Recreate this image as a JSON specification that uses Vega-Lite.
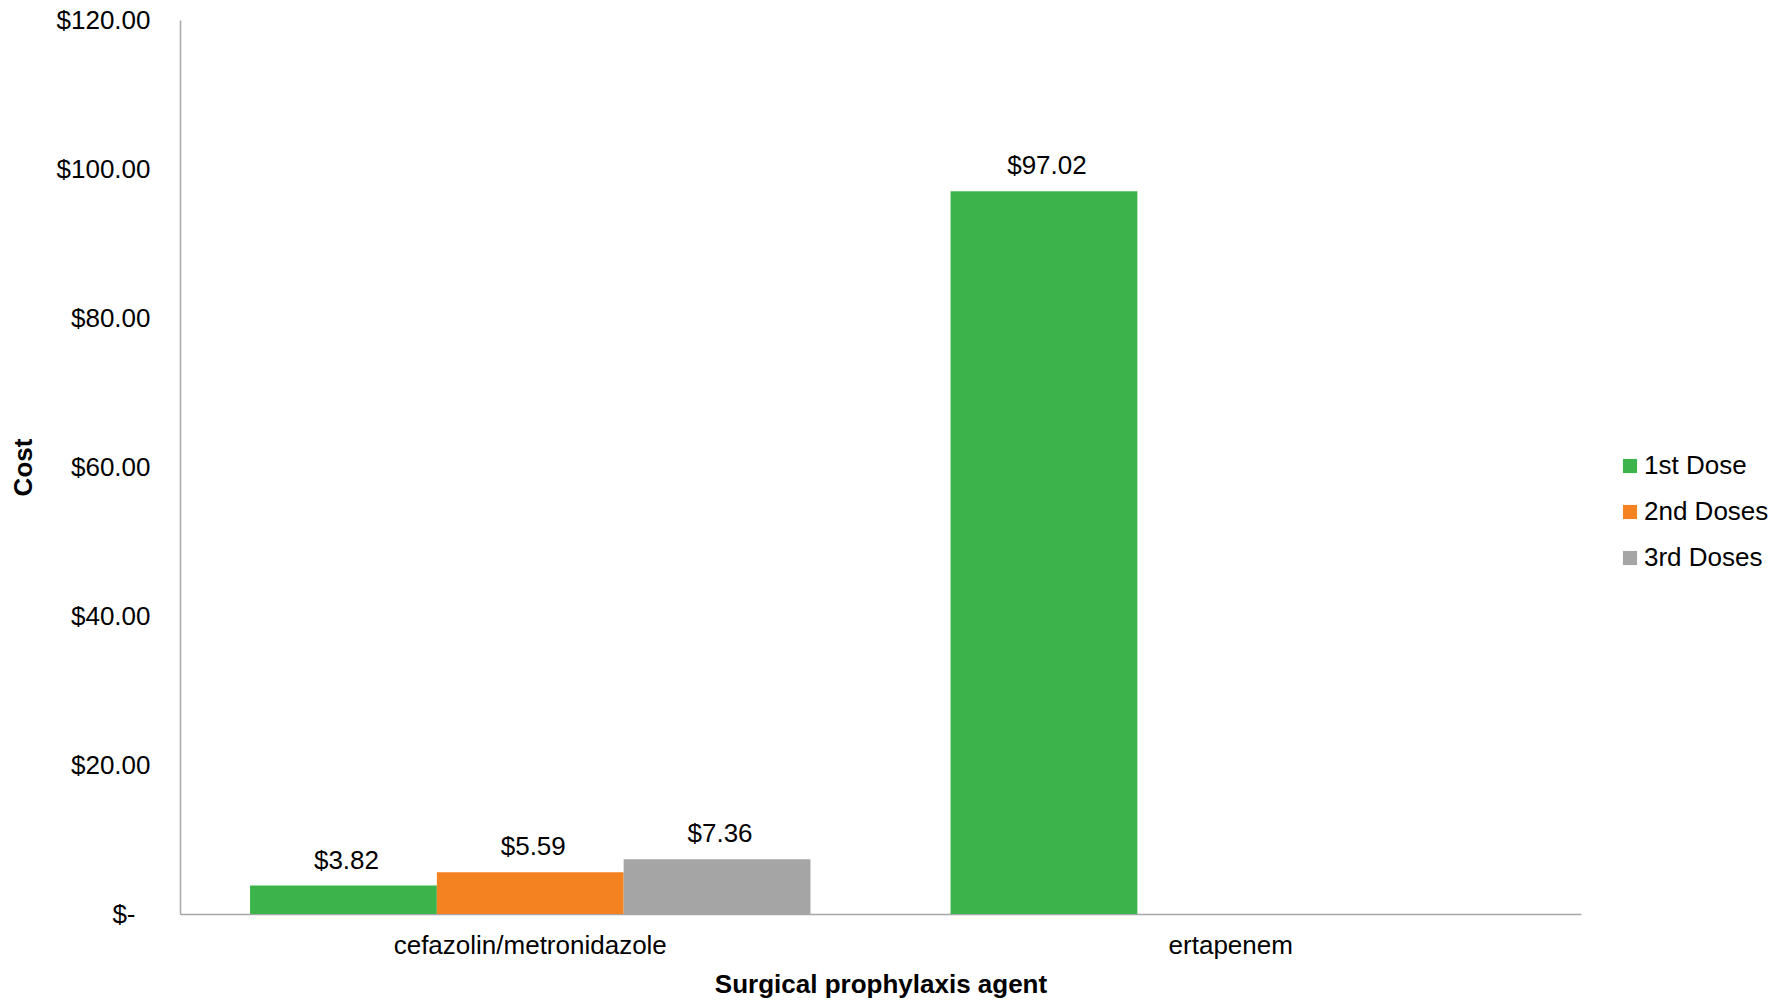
{
  "$schema": "https://vega.github.io/schema/vega-lite/v6.json",
  "autosize": {"type": "none"},
  "padding": {"left": 180, "top": 20, "right": 208, "bottom": 86},
  "width": 1401,
  "height": 894,
  "background": "white",
  "config": {
    "font": "Liberation Sans",
    "view": {"stroke": null},
    "axis": {"grid": false, "ticks": false, "tickSize": 0, "domainColor": "#A6A6A6", "domainWidth": 1.5, "labelFontSize": 26, "labelColor": "#000000", "titleFontSize": 26, "titleColor": "#000000", "titleFont": "Liberation Sans", "labelFont": "Liberation Sans"}
  },
  "data": {
    "values": [
      {"agent": "cefazolin/metronidazole", "dose": "1st Dose", "cost": 3.82},
      {"agent": "cefazolin/metronidazole", "dose": "2nd Doses", "cost": 5.59},
      {"agent": "cefazolin/metronidazole", "dose": "3rd Doses", "cost": 7.36},
      {"agent": "ertapenem", "dose": "1st Dose", "cost": 97.02}
    ]
  },
  "encoding": {
    "x": {
      "field": "agent", "type": "nominal",
      "scale": {"paddingInner": 0.2, "paddingOuter": 0.1},
      "axis": {"title": "Surgical prophylaxis agent", "labelAngle": 0, "labelPadding": 18, "titleFontWeight": "bold", "titleY": 70, "titleBaseline": "middle", "labelLimit": 600}
    },
    "xOffset": {"field": "dose", "type": "nominal", "scale": {"domain": ["1st Dose", "2nd Doses", "3rd Doses"], "paddingInner": 0, "paddingOuter": 0}},
    "y": {
      "field": "cost", "type": "quantitative",
      "scale": {"domain": [0, 120], "nice": false},
      "axis": {"title": "Cost", "values": [0, 20, 40, 60, 80, 100, 120], "labelExpr": "datum.value == 0 ? '$-' : '$' + format(datum.value, '.2f')", "labelPadding": {"condition": {"test": "datum.value == 0", "value": 45}, "value": 30}, "titleFontWeight": "bold", "titleX": -157, "titleY": 447, "titleBaseline": "middle", "titleAngle": 270}
    }
  },
  "layer": [
    {
      "mark": {"type": "bar"},
      "encoding": {
        "color": {
          "field": "dose", "type": "nominal",
          "scale": {"domain": ["1st Dose", "2nd Doses", "3rd Doses"], "range": ["#3CB44B", "#F58220", "#A5A5A5"]},
          "legend": {"title": null, "orient": "none", "legendX": 1437, "legendY": 433, "symbolType": "square", "symbolSize": 200, "symbolStrokeWidth": 0, "symbolOpacity": 1, "labelFontSize": 26, "labelColor": "#000000", "labelOffset": 1, "rowPadding": 20, "labelLimit": 300, "padding": 0}
        }
      }
    },
    {
      "mark": {"type": "text", "baseline": "bottom", "dy": -12, "dx": 3, "fontSize": 26, "color": "#000000"},
      "encoding": {
        "text": {"field": "cost", "type": "quantitative", "format": "$.2f"}
      }
    }
  ]
}
